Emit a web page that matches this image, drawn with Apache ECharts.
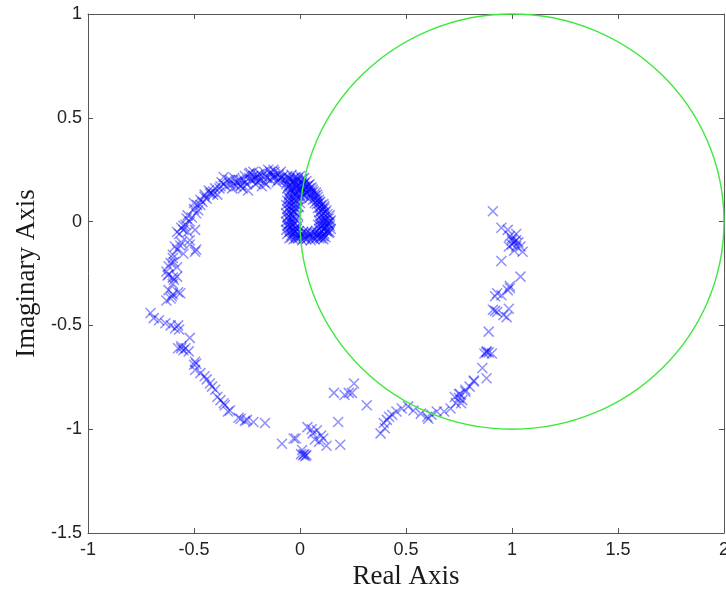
<!DOCTYPE html>
<html>
<head>
<meta charset="utf-8">
<script src="https://cdn.jsdelivr.net/npm/echarts@6/dist/echarts.min.js"></script>
<style>
html,body{margin:0;padding:0;background:#fff;}
#chart{width:726px;height:590px;}
</style>
</head>
<body>
<div id="chart"></div>
<script>
// ---- data (real, imaginary) ----
const xTicks = [-1, -0.5, 0, 0.5, 1, 1.5, 2];
const yTicks = [-1.5, -1, -0.5, 0, 0.5, 1];

const circleCenter = [1, 0];
const circleRadius = 1;

const rightBranch = [
  [0.91,0.05],[0.95,-0.03],[0.98,-0.04],[0.99,-0.07],[1.02,-0.09],[1.0,-0.11],[1.03,-0.1],
  [1.05,-0.145],[1.01,-0.14],[0.985,-0.12],[1.02,-0.06],[1.0,-0.08],[1.01,-0.1],[1.04,-0.12],
  [0.95,-0.19],[1.04,-0.265],[0.99,-0.31],[0.98,-0.33],[0.95,-0.355],[0.92,-0.36],[0.93,-0.345],
  [0.91,-0.425],[0.93,-0.435],[0.985,-0.42],[0.975,-0.46],[0.96,-0.45],[0.89,-0.53],[0.87,-0.635],
  [0.89,-0.63],[0.905,-0.635],[0.88,-0.625],[0.86,-0.705],[0.88,-0.755],[0.82,-0.765],[0.80,-0.795],
  [0.78,-0.82],[0.755,-0.83],[0.75,-0.85],[0.765,-0.86],[0.735,-0.875],[0.82,-0.77],[0.78,-0.81],
  [0.75,-0.83],[0.73,-0.845],[0.76,-0.875],[0.71,-0.90],[0.68,-0.915],[0.645,-0.915],[0.62,-0.93],
  [0.60,-0.94],[0.605,-0.95],[0.57,-0.925],[0.535,-0.91],[0.51,-0.89],[0.48,-0.90],[0.455,-0.915],
  [0.435,-0.93],[0.41,-0.955],[0.395,-0.97],[0.40,-0.995],[0.38,-1.02],[0.42,-0.94],
  [1.0,-0.09],[1.02,-0.12],[0.99,-0.32],[0.92,-0.43],[0.88,-0.63]
];

const bottomBranch = [
  [0.315,-0.885],[0.255,-0.78],[0.23,-0.825],[0.245,-0.825],[0.21,-0.835],[0.16,-0.825],
  [0.18,-0.965],[0.19,-1.075],[0.125,-1.08],[0.11,-1.045],[0.07,-1.05],[0.08,-1.005],
  [0.055,-1.0],[0.035,-0.99],[-0.03,-1.045],[-0.02,-1.045],[0.01,-1.10],[0.015,-1.125],
  [0.025,-1.13],[0.005,-1.12],[-0.085,-1.07],[0.10,-1.03],[0.09,-1.06],[0.06,-1.02],
  [0.02,-1.12],[0.03,-1.125]
];

const leftBranch = [
  [-0.165,-0.97],[-0.22,-0.965],[-0.25,-0.955],[-0.28,-0.95],[-0.26,-0.96],[-0.33,-0.91],
  [-0.34,-0.915],[-0.355,-0.885],[-0.36,-0.875],[-0.375,-0.86],[-0.39,-0.845],[-0.40,-0.81],
  [-0.415,-0.795],[-0.425,-0.78],[-0.45,-0.745],[-0.47,-0.73],[-0.495,-0.715],[-0.49,-0.685],
  [-0.495,-0.675],[-0.52,-0.56],[-0.575,-0.61],[-0.55,-0.62],[-0.525,-0.625],[-0.56,-0.60],
  [-0.54,-0.61],[-0.575,-0.50],[-0.59,-0.515],[-0.61,-0.50],[-0.635,-0.49],[-0.665,-0.475],
  [-0.69,-0.465],[-0.705,-0.44],[-0.63,-0.38],[-0.605,-0.36],[-0.565,-0.345],[-0.595,-0.28],
  [-0.575,-0.34],[-0.61,-0.37],[-0.58,-0.265],[-0.62,-0.255],[-0.595,-0.195],[-0.55,-0.155],
  [-0.495,-0.145],[-0.625,-0.26],[-0.62,-0.215],[-0.60,-0.175],[-0.58,-0.135],[-0.565,-0.115],
  [-0.49,-0.135],[-0.52,-0.09],[-0.495,-0.04],[-0.58,-0.05],[-0.56,-0.03],[-0.54,-0.015],
  [-0.535,0.015],[-0.52,0.0],[-0.55,-0.02],[-0.48,0.055],[-0.485,0.08],[-0.47,0.105],
  [-0.46,0.095],[-0.425,0.135],[-0.41,0.145],[-0.42,0.14],[-0.375,0.17],[-0.36,0.215],
  [-0.315,0.185],[-0.28,0.17],[-0.265,0.20],[-0.21,0.21],[-0.235,0.235],[-0.2,0.225],
  [-0.125,0.25],[-0.10,0.21],[-0.155,0.21],[-0.18,0.17],[-0.245,0.15],[-0.28,0.175],
  [-0.3,0.19],[-0.33,0.2],[-0.14,0.23],[-0.22,0.24],[-0.08,0.22],[-0.17,0.19],
  [-0.53,0.03],[-0.55,-0.04],[-0.57,-0.06],[-0.53,-0.05],[-0.56,-0.1],[-0.59,-0.12],
  [-0.6,-0.16],[-0.61,-0.2],[-0.58,-0.22],[-0.63,-0.24],[-0.6,-0.3],[-0.62,-0.33],
  [-0.6,-0.35],[-0.51,0.02],[-0.49,0.04],[-0.52,-0.11],[-0.6,-0.27],[-0.57,-0.52],
  [-0.56,-0.61],[-0.5,-0.69],[-0.44,-0.76],[-0.29,-0.945]
];

const topArc = [
  [-0.45,0.12],[-0.44,0.11],[-0.43,0.15],[-0.40,0.16],[-0.39,0.13],[-0.37,0.19],[-0.35,0.17],
  [-0.34,0.2],[-0.32,0.16],[-0.31,0.21],[-0.29,0.2],[-0.27,0.16],[-0.26,0.22],[-0.25,0.18],
  [-0.23,0.2],[-0.22,0.22],[-0.21,0.18],[-0.19,0.23],[-0.19,0.2],[-0.17,0.24],[-0.16,0.18],
  [-0.15,0.25],[-0.14,0.2],[-0.13,0.22],[-0.12,0.24],[-0.11,0.19],[-0.10,0.23],[-0.09,0.21],
  [-0.09,0.24],[-0.5,0.06],[-0.5,0.09],[-0.47,0.08],[-0.45,0.13],[-0.24,0.21],[-0.2,0.19],
  [-0.3,0.17],[-0.12,0.21],
  [-0.28,0.2],[-0.26,0.19],[-0.24,0.23],[-0.22,0.2],[-0.2,0.21],[-0.18,0.22],[-0.16,0.22],
  [-0.14,0.24],[-0.12,0.22],[-0.1,0.2],[-0.08,0.2],[-0.33,0.18],[-0.36,0.18],[-0.38,0.16],[-0.41,0.13]
];

const coreCluster = [
  [-0.06,0.22],[-0.04,0.225],[-0.02,0.215],[0.0,0.22],[0.02,0.21],
  [-0.07,0.2],[-0.05,0.205],[-0.03,0.195],[-0.01,0.2],[0.01,0.19],[0.03,0.195],[0.045,0.18],
  [-0.065,0.18],[-0.045,0.175],[-0.025,0.185],[-0.005,0.175],[0.015,0.18],[0.035,0.17],[0.055,0.165],
  [-0.06,0.16],[-0.04,0.155],[-0.02,0.165],[0.0,0.155],[0.02,0.16],[0.04,0.15],[0.06,0.155],[0.075,0.14],
  [-0.05,0.14],[-0.03,0.135],[-0.01,0.145],[0.01,0.135],[0.03,0.14],[0.05,0.13],[0.07,0.125],[0.085,0.12],
  [-0.055,0.12],[-0.035,0.115],[-0.015,0.125],[0.005,0.115],[0.04,0.11],[0.06,0.105],[0.08,0.1],[0.095,0.095],
  [-0.06,0.1],[-0.04,0.095],[-0.02,0.1],[0.0,0.09],[0.08,0.085],[0.1,0.08],[0.115,0.075],
  [-0.065,0.08],[-0.045,0.075],[-0.025,0.085],[-0.005,0.07],[0.085,0.065],[0.105,0.06],[0.125,0.055],
  [-0.06,0.06],[-0.04,0.055],[-0.02,0.065],[0.09,0.045],[0.11,0.04],[0.13,0.035],
  [-0.065,0.04],[-0.045,0.035],[-0.025,0.045],[-0.01,0.03],[0.095,0.025],[0.115,0.02],[0.135,0.015],
  [-0.06,0.02],[-0.04,0.015],[-0.02,0.01],[0.09,0.005],[0.11,0.0],[0.13,-0.005],[0.145,0.005],
  [-0.065,0.0],[-0.045,-0.005],[-0.025,-0.01],[-0.01,-0.02],[0.085,-0.015],[0.105,-0.02],[0.125,-0.025],[0.14,-0.02],
  [-0.06,-0.02],[-0.04,-0.025],[-0.02,-0.03],[0.09,-0.035],[0.11,-0.04],[0.13,-0.045],[0.145,-0.035],
  [-0.065,-0.04],[-0.045,-0.045],[-0.025,-0.05],[-0.005,-0.045],[0.015,-0.05],[0.035,-0.045],[0.055,-0.05],[0.075,-0.045],[0.095,-0.055],[0.115,-0.06],[0.135,-0.055],
  [-0.06,-0.06],[-0.04,-0.065],[-0.02,-0.07],[0.0,-0.065],[0.02,-0.07],[0.04,-0.065],[0.06,-0.07],[0.08,-0.065],[0.1,-0.07],[0.12,-0.075],
  [-0.05,-0.08],[-0.03,-0.085],[-0.01,-0.08],[0.01,-0.09],[0.03,-0.085],[0.05,-0.09],[0.07,-0.085],[0.09,-0.08],[0.11,-0.085]
];

const coreFill = [
  [-0.05,0.21],[-0.03,0.21],[-0.01,0.21],[0.01,0.205],
  [-0.06,0.19],[-0.04,0.19],[-0.02,0.19],[0.0,0.185],[0.02,0.185],[0.04,0.175],
  [-0.055,0.17],[-0.035,0.165],[-0.015,0.17],[0.005,0.165],[0.025,0.17],[0.045,0.16],[0.065,0.145],
  [-0.045,0.15],[-0.025,0.145],[-0.005,0.15],[0.015,0.145],[0.035,0.135],[0.055,0.14],[0.08,0.13],
  [-0.05,0.13],[-0.02,0.13],[0.0,0.125],[0.02,0.125],[0.05,0.12],[0.07,0.11],[0.09,0.105],
  [-0.05,0.11],[-0.03,0.105],[-0.01,0.11],[0.07,0.09],[0.09,0.09],[0.11,0.085],
  [0.095,0.07],[0.115,0.065],[0.1,0.05],[0.12,0.045],[0.14,0.03],[0.1,0.03],[0.12,0.01],
  [0.14,0.0],[0.1,0.01],[0.095,-0.01],[0.115,-0.01],[0.135,-0.01],[0.1,-0.025],[0.12,-0.03],
  [0.14,-0.05],[0.1,-0.045],[0.125,-0.045],
  [-0.05,0.09],[-0.03,0.07],[-0.05,0.07],[-0.03,0.05],[-0.05,0.05],[-0.035,0.03],[-0.055,0.025],
  [-0.03,0.02],[-0.05,0.005],[-0.03,-0.005],[-0.055,-0.015],[-0.035,-0.02],[-0.05,-0.03],
  [-0.03,-0.04],[-0.015,-0.035],
  [-0.05,-0.05],[-0.03,-0.055],[-0.01,-0.06],[0.01,-0.06],[0.03,-0.055],[0.05,-0.06],[0.07,-0.055],
  [0.09,-0.065],[0.11,-0.07],[-0.04,-0.075],[-0.02,-0.08],[0.0,-0.075],[0.02,-0.08],[0.04,-0.075],
  [0.06,-0.08],[0.08,-0.075],[0.1,-0.08]
];

// ---- chart ----
const chart = echarts.init(document.getElementById('chart'), null, {renderer: 'canvas'});
const tickFont = {fontFamily: 'Liberation Sans, Arial, sans-serif', fontSize: 18, color: '#222'};
const nameFont = {fontFamily: 'Liberation Serif, Times New Roman, serif', fontSize: 27, color: '#1a1a1a'};
const lineStyle = {color: '#555', width: 1};
const xMarker = 'path://M0,0L10,10M10,0L0,10';

function markerSeries(data) {
  return {
    type: 'scatter', xAxisIndex: 0, yAxisIndex: 0, data: data,
    symbol: xMarker, symbolSize: 10,
    itemStyle: {color: 'rgba(0,0,0,0)', borderColor: 'rgba(0,0,255,0.55)', borderWidth: 1.5},
    emphasis: {disabled: true}, z: 2
  };
}

chart.setOption({
  animation: false,
  backgroundColor: '#fff',
  grid: {left: 88, right: 2, top: 14, bottom: 57, containLabel: false, outerBoundsMode: 'none'},
  xAxis: [{
    type: 'value', min: xTicks[0], max: xTicks[xTicks.length - 1], interval: 0.5,
    position: 'bottom',
    name: 'Real Axis', nameLocation: 'middle', nameGap: 29, nameTextStyle: nameFont,
    axisLine: {show: true, onZero: false, lineStyle: lineStyle},
    axisTick: {show: true, inside: true, length: 5, lineStyle: lineStyle},
    axisLabel: Object.assign({margin: 8}, tickFont),
    splitLine: {show: false}
  }, {
    type: 'value', min: xTicks[0], max: xTicks[xTicks.length - 1], interval: 0.5,
    position: 'top',
    axisLine: {show: true, onZero: false, lineStyle: lineStyle},
    axisTick: {show: true, inside: true, length: 5, lineStyle: lineStyle},
    axisLabel: {show: false}, splitLine: {show: false}
  }],
  yAxis: [{
    type: 'value', min: yTicks[0], max: yTicks[yTicks.length - 1], interval: 0.5,
    position: 'left',
    name: 'Imaginary Axis', nameLocation: 'middle', nameGap: 47, nameRotate: 90, nameTextStyle: nameFont,
    axisLine: {show: true, onZero: false, lineStyle: lineStyle},
    axisTick: {show: true, inside: true, length: 5, lineStyle: lineStyle},
    axisLabel: Object.assign({margin: 6}, tickFont),
    splitLine: {show: false}
  }, {
    type: 'value', min: yTicks[0], max: yTicks[yTicks.length - 1], interval: 0.5,
    position: 'right',
    axisLine: {show: true, onZero: false, lineStyle: lineStyle},
    axisTick: {show: true, inside: true, length: 5, lineStyle: lineStyle},
    axisLabel: {show: false}, splitLine: {show: false}
  }],
  series: [
    markerSeries(rightBranch),
    markerSeries(bottomBranch),
    markerSeries(leftBranch),
    markerSeries(topArc),
    markerSeries(coreCluster),
    markerSeries(coreFill),
    {
      type: 'custom', xAxisIndex: 0, yAxisIndex: 0, z: 3, silent: true,
      data: [[circleCenter[0], circleCenter[1], circleRadius]],
      renderItem: function (params, api) {
        const c = api.coord([api.value(0), api.value(1)]);
        const s = api.size([api.value(2), api.value(2)]);
        return {
          type: 'ellipse',
          shape: {cx: c[0], cy: c[1], rx: s[0], ry: s[1]},
          style: {fill: 'none', stroke: '#3ee83e', lineWidth: 1.4}
        };
      }
    }
  ]
});
</script>
</body>
</html>
